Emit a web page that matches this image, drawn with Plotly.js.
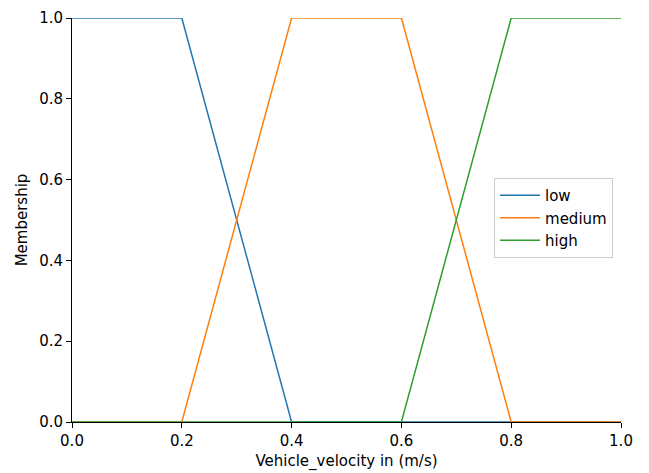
<!DOCTYPE html>
<html>
<head>
<meta charset="utf-8">
<script src="https://cdn.plot.ly/plotly-3.0.1.min.js"></script>
<style>html,body{margin:0;padding:0;background:#fff}#chart{width:649px;height:473px}</style>
</head>
<body>
<div id="chart"></div>
<script>
// Membership functions for vehicle velocity (trapezoid breakpoints)
const lowX = [0, 0.2, 0.4, 1.0];
const lowY = [1, 1, 0, 0];
const mediumX = [0, 0.2, 0.4, 0.6, 0.8, 1.0];
const mediumY = [0, 0, 1, 1, 0, 0];
const highX = [0, 0.6, 0.8, 1.0];
const highY = [0, 0, 1, 1];
const seriesNames = ['low', 'medium', 'high'];
const tickVals = [0, 0.2, 0.4, 0.6, 0.8, 1.0];
const tickText = ['0.0', '0.2', '0.4', '0.6', '0.8', '1.0'];

const colors = ['#1f77b4', '#ff7f0e', '#2ca02c'];
const xs = [lowX, mediumX, highX];
const ys = [lowY, mediumY, highY];

const traces = seriesNames.map((n, i) => ({
  x: xs[i], y: ys[i], name: n, type: 'scatter', mode: 'lines',
  line: {color: colors[i], width: 1.5}
}));

const font = {family: 'DejaVu Sans', size: 15, color: '#000'};
const axisCommon = {
  range: [0, 1], tickvals: tickVals, ticktext: tickText,
  showgrid: false, zeroline: false, showline: true, linecolor: '#000', linewidth: 1,
  ticks: 'outside', ticklen: 5, tickwidth: 1, tickcolor: '#000',
  tickfont: font, layer: 'above traces'
};

const layout = {
  width: 649, height: 473,
  margin: {l: 72, r: 28, t: 18, b: 51},
  paper_bgcolor: '#fff', plot_bgcolor: '#fff',
  font: font,
  showlegend: true,
  legend: {
    x: 0.7687, y: 0.604, xanchor: 'left', yanchor: 'top',
    bordercolor: '#cccccc', borderwidth: 1, bgcolor: '#fff',
    itemwidth: 40,
    font: {family: 'DejaVu Sans', size: 15, color: '#000'}
  },
  xaxis: Object.assign({}, axisCommon, {
    title: {text: 'Vehicle_velocity in (m/s)', font: font, standoff: 6}
  }),
  yaxis: Object.assign({}, axisCommon, {
    title: {text: 'Membership', font: font, standoff: 7}
  })
};

Plotly.newPlot('chart', traces, layout, {displayModeBar: false, staticPlot: true});
</script>
</body>
</html>
